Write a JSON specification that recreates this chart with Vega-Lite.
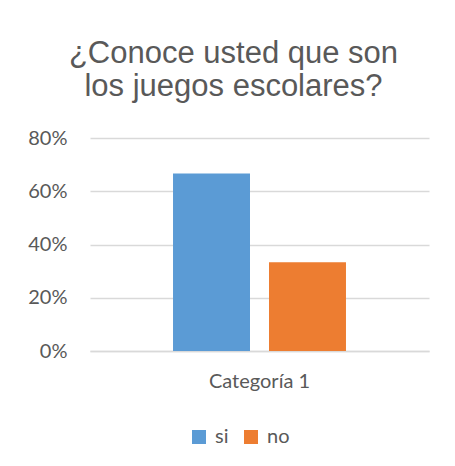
{
  "$schema": "https://vega.github.io/schema/vega-lite/v6.json",
  "width": 339,
  "height": 213,
  "autosize": "none",
  "padding": {"left": 90, "top": 138, "right": 26, "bottom": 115},
  "background": "white",
  "title": {
    "text": ["¿Conoce usted que son", "los juegos escolares?"],
    "font": "Liberation Sans",
    "fontSize": 31,
    "fontWeight": "normal",
    "color": "#595959",
    "anchor": "middle",
    "dx": -26,
    "offset": 25,
    "lineHeight": 33
  },
  "data": {
    "values": [
      {"categoria": "Categoría 1", "serie": "si", "valor": 0.6667},
      {"categoria": "Categoría 1", "serie": "no", "valor": 0.3333}
    ]
  },
  "mark": {"type": "bar"},
  "encoding": {
    "x": {
      "field": "categoria",
      "type": "nominal",
      "scale": {"paddingInner": 0, "paddingOuter": 0.48},
      "axis": {
        "title": null,
        "labelAngle": 0,
        "domain": true,
        "domainColor": "#d9d9d9",
        "domainWidth": 1.5,
        "ticks": false,
        "labelFont": "Lato",
        "labelFontSize": 20,
        "labelColor": "#595959",
        "labelPadding": 20
      }
    },
    "xOffset": {
      "field": "serie",
      "type": "nominal",
      "sort": ["si", "no"],
      "scale": {"paddingInner": 0.198, "paddingOuter": 0}
    },
    "y": {
      "field": "valor",
      "type": "quantitative",
      "scale": {"domain": [0, 0.8]},
      "axis": {
        "title": null,
        "format": ".0%",
        "values": [0, 0.2, 0.4, 0.6, 0.8],
        "domain": false,
        "ticks": false,
        "gridColor": "#d9d9d9",
        "gridWidth": 1.5,
        "labelFont": "Lato",
        "labelFontSize": 20,
        "labelColor": "#595959",
        "labelPadding": 23
      }
    },
    "color": {
      "field": "serie",
      "type": "nominal",
      "sort": ["si", "no"],
      "scale": {"domain": ["si", "no"], "range": ["#5b9bd5", "#ed7d31"]},
      "legend": {
        "title": null,
        "orient": "none",
        "direction": "horizontal",
        "legendX": 99,
        "legendY": 289,
        "symbolType": "square",
        "symbolSize": 196,
        "symbolStrokeWidth": 0,
        "symbolOpacity": 1,
        "labelFont": "Lato",
        "labelFontSize": 20,
        "labelColor": "#595959",
        "labelOffset": 6,
        "columnPadding": 12
      }
    }
  },
  "config": {"view": {"stroke": null}}
}
